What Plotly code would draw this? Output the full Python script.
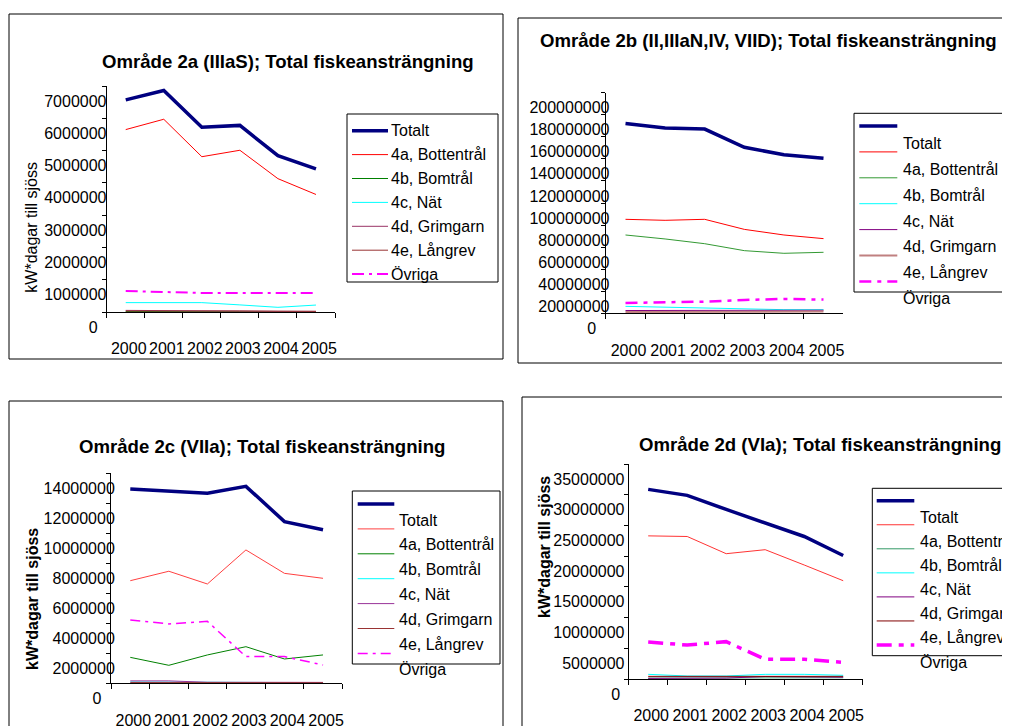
import plotly.graph_objects as go

# ---------------- data ----------------
years = ["2000", "2001", "2002", "2003", "2004", "2005"]
series_names = ["Totalt", "4a, Bottentrål", "4b, Bomtrål", "4c, Nät",
                "4d, Grimgarn", "4e, Långrev", "Övriga"]

# Område 2a (IIIaS)
p1_title = "Område 2a (IIIaS); Total fiskeansträngning"
p1_totalt = [6570000, 6860000, 5720000, 5780000, 4840000, 4430000]
p1_4a = [5650000, 5970000, 4810000, 5010000, 4130000, 3640000]
p1_4b = [15000, 20000, 15000, 10000, 5000, 5000]
p1_4c = [290000, 290000, 290000, 220000, 145000, 215000]
p1_4d = [50000, 50000, 40000, 30000, 20000, 20000]
p1_4e = [30000, 40000, 30000, 30000, 20000, 20000]
p1_ovriga = [650000, 610000, 590000, 590000, 590000, 590000]
p1_yticks = [0, 1000000, 2000000, 3000000, 4000000, 5000000, 6000000, 7000000]

# Område 2b (II,IIIaN,IV, VIID)
p2_title = "Område 2b (II,IIIaN,IV, VIID); Total fiskeansträngning"
p2_totalt = [172000000, 168000000, 167000000, 150500000, 143800000, 140500000]
p2_4a = [85200000, 84300000, 85200000, 76100000, 71000000, 67700000]
p2_4b = [71000000, 67400000, 63100000, 56800000, 54400000, 55300000]
p2_4c = [6300000, 5400000, 4800000, 3600000, 3300000, 3300000]
p2_4d = [2500000, 2600000, 2700000, 2800000, 2800000, 2800000]
p2_4e = [1200000, 1300000, 1400000, 1500000, 1600000, 1600000]
p2_ovriga = [9400000, 9700000, 10600000, 12100000, 13000000, 12400000]
p2_yticks = [0, 20000000, 40000000, 60000000, 80000000, 100000000,
             120000000, 140000000, 160000000, 180000000, 200000000]

# Område 2c (VIIa)
p3_title = "Område 2c (VIIa); Total fiskeansträngning"
p3_totalt = [12960000, 12820000, 12670000, 13130000, 10780000, 10240000]
p3_4a = [6840000, 7470000, 6620000, 8890000, 7330000, 7000000]
p3_4b = [1730000, 1200000, 1890000, 2440000, 1620000, 1890000]
p3_4c = [90000, 90000, 50000, 40000, 40000, 40000]
p3_4d = [160000, 160000, 70000, 60000, 60000, 60000]
p3_4e = [50000, 50000, 40000, 40000, 40000, 40000]
p3_ovriga = [4220000, 3960000, 4130000, 1780000, 1780000, 1220000]
p3_yticks = [0, 2000000, 4000000, 6000000, 8000000, 10000000, 12000000, 14000000]

# Område 2d (VIa)
p4_title = "Område 2d (VIa); Total fiskeansträngning"
p4_totalt = [30870000, 29900000, 27600000, 25400000, 23200000, 20100000]
p4_4a = [23300000, 23200000, 20400000, 21050000, 18560000, 16000000]
p4_4b = [150000, 150000, 150000, 200000, 200000, 200000]
p4_4c = [760000, 490000, 490000, 760000, 760000, 600000]
p4_4d = [100000, 100000, 150000, 400000, 300000, 300000]
p4_4e = [430000, 430000, 430000, 350000, 430000, 430000]
p4_ovriga = [6020000, 5530000, 6080000, 3200000, 3200000, 2710000]
p4_yticks = [0, 5000000, 10000000, 15000000, 20000000, 25000000, 30000000, 35000000]

y_title = "kW*dagar till sjöss"

# ---------------- styling ----------------
W, H = 1010, 726
OFF = 8  # page body margin
FONT = "Liberation Sans, Arial, sans-serif"

def px(x):
    return (x - OFF) / W

def py(y):
    return 1 - (y - OFF) / H

panels = [
    dict(title=p1_title, data=[p1_totalt, p1_4a, p1_4b, p1_4c, p1_4d, p1_4e, p1_ovriga],
         yticks=p1_yticks, zero_pad=2,
         colors=["#000080", "#FF0000", "#008000", "#00FFFF", "#993366", "#993333", "#FF00FF"],
         widths=[3.5, 1, 1, 1, 1, 1, 2],
         odash="12px,5px,3px,5px",
         plot=(106.7, 86, 335, 312), frame=(9, 14, 503, 359),
         title_xy=(288, 61), ytitle=(32, 227.7, False),
         leg_box=(347, 114, 498, 282), leg_lx=(352, 388), leg_y0=130.7, leg_dy=23.9,
         leg_tx=389, leg_toff=0, ystand=-8),
    dict(title=p2_title, data=[p2_totalt, p2_4a, p2_4b, p2_4c, p2_4d, p2_4e, p2_ovriga],
         yticks=p2_yticks, zero_pad=3,
         colors=["#000080", "#FF0000", "#339933", "#00FFFF", "#800080", "#C08080", "#FF00FF"],
         widths=[3.5, 1, 1, 1, 1, 2, 2.5],
         odash="12px,6px,4px,6px",
         plot=(605.7, 92.7, 843.3, 313.3), frame=(518, 18, 1030, 363),
         title_xy=(768, 40), ytitle=None,
         leg_box=(854, 113.3, 1006.7, 292), leg_lx=(859.3, 897.3), leg_y0=126, leg_dy=25.9,
         leg_tx=900.7, leg_toff=17.3, ystand=-12),
    dict(title=p3_title, data=[p3_totalt, p3_4a, p3_4b, p3_4c, p3_4d, p3_4e, p3_ovriga],
         yticks=p3_yticks, zero_pad=3,
         colors=["#000080", "#FF4040", "#008000", "#00FFFF", "#993399", "#993333", "#FF00FF"],
         widths=[3.5, 1, 1, 1, 1, 1, 1.5],
         odash="10px,5px,3px,5px",
         plot=(111, 473.3, 342.3, 683.3), frame=(9, 401, 503, 760),
         title_xy=(262, 447), ytitle=(32, 599, True),
         leg_box=(352.3, 491, 500, 664), leg_lx=(357.7, 394.3), leg_y0=504, leg_dy=24.9,
         leg_tx=396.7, leg_toff=16, ystand=-12),
    dict(title=p4_title, data=[p4_totalt, p4_4a, p4_4b, p4_4c, p4_4d, p4_4e, p4_ovriga],
         yticks=p4_yticks, zero_pad=1,
         colors=["#000080", "#FF3333", "#339966", "#00FFFF", "#800080", "#800000", "#FF00FF"],
         widths=[3.5, 1, 1, 1, 1, 1, 3.5],
         odash="15px,7px,5px,7px",
         plot=(628.7, 464, 862.7, 679), frame=(522, 397, 1030, 760),
         title_xy=(820, 444), ytitle=(544, 547, True),
         leg_box=(872.3, 488.3, 1030, 655.7), leg_lx=(876.7, 914.3), leg_y0=500.7, leg_dy=24.05,
         leg_tx=918.3, leg_toff=17, ystand=-4),
]

fig = go.Figure()
shapes = []
annotations = []
layout = dict(
    width=W, height=H, margin=dict(l=0, r=0, t=0, b=0, pad=0, autoexpand=False),
    paper_bgcolor="white", plot_bgcolor="white", showlegend=False,
    font=dict(family=FONT, size=16, color="black"),
)

for i, p in enumerate(panels):
    n = "" if i == 0 else str(i + 1)
    xa, ya = "x" + n, "y" + n
    x0, y0, x1, y1 = p["plot"]

    for k, (name, vals) in enumerate(zip(series_names, p["data"])):
        dash = p["odash"] if k == 6 else "solid"
        fig.add_trace(go.Scatter(
            x=years, y=vals, name=name, mode="lines", xaxis=xa, yaxis=ya,
            line=dict(color=p["colors"][k], width=p["widths"][k], dash=dash),
            hoverinfo="x+y+name",
        ))

    ticktext = [("0" + "\u00a0" * p["zero_pad"]) if v == 0 else str(v) for v in p["yticks"]]
    layout["xaxis" + n] = dict(
        domain=[px(x0), px(x1)], anchor=ya, type="category", automargin=False,
        range=[-0.5, len(years) - 0.5],
        showline=True, linecolor="black", linewidth=1,
        showgrid=False, zeroline=False, tickangle=0,
        ticks="outside", ticklen=5, tickcolor="black", tickson="boundaries",
        tickfont=dict(family=FONT, size=16, color="black"),
        ticklabelstandoff=22, ticklabelshift=3, fixedrange=True,
    )
    layout["yaxis" + n] = dict(
        domain=[py(y1), py(y0)], anchor=xa, automargin=False,
        range=[0, p["yticks"][-1]],
        showline=True, linecolor="black", linewidth=1,
        showgrid=False, zeroline=False,
        ticks="outside", ticklen=4, tickcolor="black",
        tickmode="array", tickvals=p["yticks"], ticktext=ticktext,
        tickfont=dict(family=FONT, size=16, color="black"),
        ticklabelshift=15, ticklabelstandoff=p["ystand"], fixedrange=True,
    )

    # chart-area frame
    fx0, fy0, fx1, fy1 = p["frame"]
    shapes.append(dict(type="rect", xref="paper", yref="paper",
                       x0=px(fx0), x1=px(fx1), y0=py(fy1), y1=py(fy0),
                       line=dict(color="black", width=1), layer="below"))

    # title
    tx, ty = p["title_xy"]
    annotations.append(dict(text="<b>" + p["title"] + "</b>", x=px(tx), y=py(ty),
                            xref="paper", yref="paper", xanchor="center", yanchor="middle",
                            showarrow=False, font=dict(family=FONT, size=18.6, color="black")))
    # y title
    if p["ytitle"] is not None:
        ytx, yty, bold = p["ytitle"]
        txt = "<b>" + y_title + "</b>" if bold else y_title
        annotations.append(dict(text=txt, x=px(ytx), y=py(yty), xref="paper", yref="paper",
                                xanchor="center", yanchor="middle", textangle=-90,
                                showarrow=False, font=dict(family=FONT, size=16, color="black")))

    # legend
    bx0, by0, bx1, by1 = p["leg_box"]
    shapes.append(dict(type="rect", xref="paper", yref="paper",
                       x0=px(bx0), x1=px(bx1), y0=py(by1), y1=py(by0),
                       line=dict(color="black", width=1), fillcolor="rgba(0,0,0,0)"))
    lx0, lx1 = p["leg_lx"]
    for k, name in enumerate(series_names):
        ly = p["leg_y0"] + k * p["leg_dy"]
        dash = p["odash"] if k == 6 else "solid"
        shapes.append(dict(type="line", xref="paper", yref="paper",
                           x0=px(lx0), x1=px(lx1), y0=py(ly), y1=py(ly),
                           line=dict(color=p["colors"][k], width=p["widths"][k], dash=dash)))
        annotations.append(dict(text=name, x=px(p["leg_tx"]), y=py(ly + p["leg_toff"]),
                                xref="paper", yref="paper", xanchor="left", yanchor="middle",
                                showarrow=False, font=dict(family=FONT, size=16, color="black")))

layout["shapes"] = shapes
layout["annotations"] = annotations
fig.update_layout(**layout)
fig.write_html("out.html")
